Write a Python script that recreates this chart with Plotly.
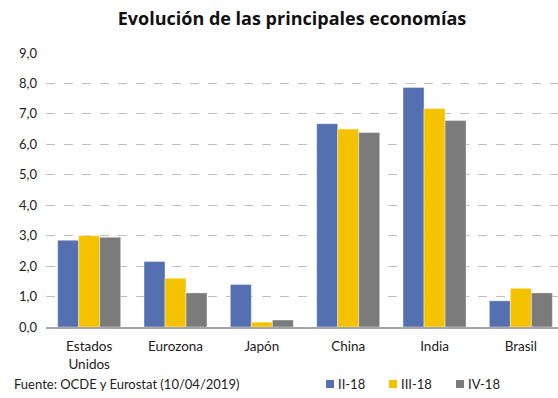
import plotly.graph_objects as go

categories = ["Estados<br>Unidos", "Eurozona", "Japón", "China", "India", "Brasil"]
series_names = ["II-18", "III-18", "IV-18"]
ii_18 = [2.85, 2.15, 1.40, 6.68, 7.87, 0.86]
iii_18 = [3.0, 1.60, 0.16, 6.50, 7.18, 1.27]
iv_18 = [2.95, 1.12, 0.23, 6.39, 6.78, 1.12]
colors = ["#5470B0", "#F5C200", "#7B7B7B"]
y_ticks = [0, 1, 2, 3, 4, 5, 6, 7, 8, 9]

FONT = "Lato, 'Open Sans', sans-serif"

# plot area geometry (pixels)
L, R, T, B, W, H = 46, 0, 53, 71, 558, 398
PW, PH = W - L - R, H - T - B

def px_x(px):
    return (px - L) / PW

def px_y(py):
    return (H - B - py) / PH

fig = go.Figure()
for name, vals, col in zip(series_names, [ii_18, iii_18, iv_18], colors):
    fig.add_trace(go.Bar(
        x=categories, y=vals, name=name, showlegend=False,
        marker=dict(color=col, line=dict(color="rgba(255,255,255,0.5)", width=0.8)),
    ))

fig.update_layout(
    width=W, height=H,
    margin=dict(l=L, r=R, t=T, b=B),
    paper_bgcolor="white", plot_bgcolor="white",
    separators=",.",
    barmode="group", bargap=0.27, bargroupgap=0,
    font=dict(family=FONT, size=13, color="#222222"),
    title=dict(text="<b>Evolución de las principales economías</b>",
               x=px_x(292), xref="paper", y=0.952, yref="container",
               xanchor="center", yanchor="middle",
               font=dict(family="'Open Sans', sans-serif", size=18, color="#111111")),
    xaxis=dict(range=[-0.5, 5.43], showgrid=False, showline=True,
               linecolor="#A6A6A6", linewidth=1.5, ticks="", ticklabelstandoff=6,
               tickfont=dict(size=13.5), fixedrange=True),
    yaxis=dict(range=[0, 9], tickvals=y_ticks, tickformat=".1f",
               showgrid=True, gridcolor="#BFBFBF", griddash="dash", gridwidth=1,
               zeroline=False, showline=False, ticks="", ticklabelstandoff=8,
               tickfont=dict(size=13)),
    showlegend=False,
)
fig.add_annotation(text="Fuente: OCDE y Eurostat (10/04/2019)", xref="paper", yref="paper",
                   x=px_x(12), y=px_y(384), xanchor="left", yanchor="middle", showarrow=False,
                   font=dict(size=13, family=FONT, color="#222222"))

# manual legend
leg_sq_x = [326, 389, 456]
for name, col, sx in zip(series_names, colors, leg_sq_x):
    fig.add_shape(type="rect", xref="paper", yref="paper",
                  x0=px_x(sx), x1=px_x(sx + 8), y0=px_y(388), y1=px_y(380),
                  fillcolor=col, line=dict(width=0))
    fig.add_annotation(text=name, xref="paper", yref="paper",
                       x=px_x(sx + 10), y=px_y(384), xanchor="left", yanchor="middle",
                       showarrow=False, font=dict(size=13, family=FONT, color="#222222"))

fig.write_html("out.html")
